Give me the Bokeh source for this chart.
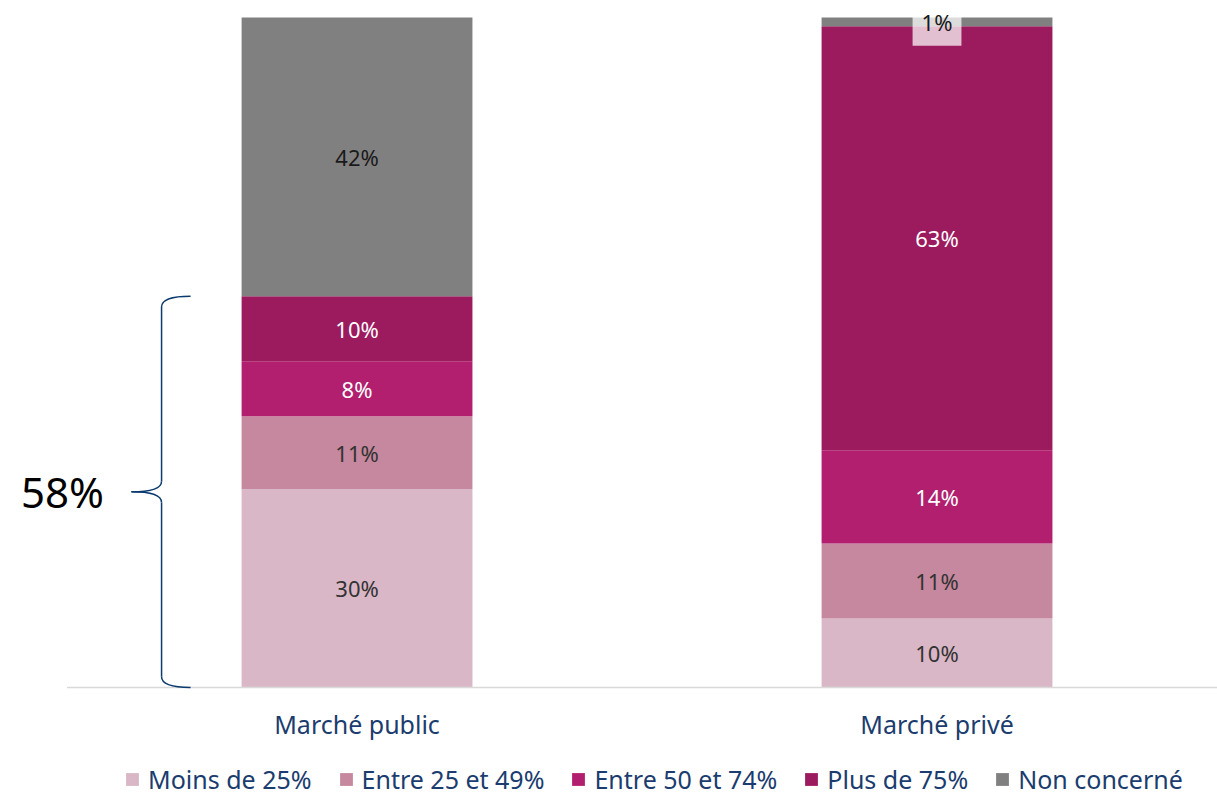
from bokeh.plotting import figure
from bokeh.models import Legend, LegendItem, ColumnDataSource, Range1d
from bokeh.core.properties import value
from bokeh.embed import file_html
from bokeh.resources import INLINE

# ---------------- data ----------------
categories = ["Marché public", "Marché privé"]
levels = ["Moins de 25%", "Entre 25 et 49%", "Entre 50 et 74%", "Plus de 75%", "Non concerné"]
public_values = [29.6, 10.9, 8.2, 9.7, 41.6]
prive_values = [10.3, 11.2, 13.9, 63.3, 1.3]
brace_label = "58%"

# ---------------- styles ----------------
colors = ["#D9B7C6", "#C5889E", "#B11F6E", "#9C1A5E", "#808080"]
label_colors = ["#333333", "#333333", "#FFFFFF", "#FFFFFF", "#1A1A1A"]
FONT = "Noto Sans"
BLUE = "#1A3C6E"

xs = [0, 1]
series = [public_values, prive_values]

p = figure(width=1217, height=796, output_backend="svg", toolbar_location=None,
           x_range=Range1d(-0.6147, 1.4836), y_range=Range1d(-16.27, 102.54),
           min_border=0)
p.min_border_left = 0
p.min_border_right = 0
p.min_border_top = 0
p.min_border_bottom = 0
p.xaxis.visible = False
p.yaxis.visible = False
p.xgrid.visible = False
p.ygrid.visible = False
p.outline_line_color = None
p.background_fill_color = "white"

src = ColumnDataSource(dict(x=xs, **{lvl: [s[i] for s in series] for i, lvl in enumerate(levels)}))
renderers = p.vbar_stack(levels, x="x", width=0.398, source=src, color=colors, line_color=None)

# baseline
p.segment(x0=[-0.5], y0=[0], x1=[1.4836], y1=[0], line_color="#D9D9D9", line_width=1.5)

# data labels
lx, ly, lt, lc = [], [], [], []
sx, sy, st = [], [], []
for xi, vals in zip(xs, series):
    cum = 0
    for i, v in enumerate(vals):
        mid = cum + v / 2
        cum += v
        txt = f"{round(v)}%"
        if v < 3:
            sx.append(xi); sy.append(mid); st.append(txt)
        else:
            lx.append(xi); ly.append(mid); lt.append(txt); lc.append(label_colors[i])
p.text(x=lx, y=ly, text=lt, text_color=lc, text_align="center", text_baseline="middle",
       text_font=value(FONT), text_font_size="22px")
p.text(x=sx, y=sy, text=st, text_color="#1A1A1A", text_align="center", text_baseline="middle",
       text_font=value(FONT), text_font_size="22px",
       background_fill_color="white", background_fill_alpha=0.72, padding=9)

# category labels
p.text(x=xs, y=[-5.4, -5.4], text=categories, text_color=BLUE, text_align="center",
       text_baseline="middle", text_font=value(FONT), text_font_size="25px")

# brace over the first four public segments
y_top = sum(public_values[:4])
y_mid = y_top / 2
r = 1.6
x_tip, x_sp, x_pt = -0.287, -0.337, -0.389
bc = "#0B3A6F"
p.quadratic(x0=[x_tip, x_sp, x_pt, x_sp], y0=[y_top, y_mid + r, y_mid, r],
            x1=[x_sp, x_pt, x_sp, x_tip], y1=[y_top - r, y_mid, y_mid - r, 0],
            cx=[x_sp, x_sp, x_sp, x_sp], cy=[y_top, y_mid, y_mid, 0],
            line_color=bc, line_width=1.5)
p.segment(x0=[x_sp, x_sp], y0=[y_top - r, y_mid - r], x1=[x_sp, x_sp], y1=[y_mid + r, r],
          line_color=bc, line_width=1.5)
p.text(x=[-0.508], y=[y_mid], text=[brace_label], text_color="black", text_align="center",
       text_baseline="middle", text_font=value(FONT), text_font_size="42px")

# legend
items = [LegendItem(label=lvl, renderers=[rr]) for lvl, rr in zip(levels, renderers)]
legend = Legend(items=items, orientation="horizontal", location=(124, 0),
                label_text_font=FONT, label_text_font_size="25px", label_text_color=BLUE,
                glyph_width=16, glyph_height=16, label_standoff=8, spacing=26,
                padding=0, margin=0, background_fill_alpha=0, border_line_color=None,
                label_height=20)
p.add_layout(legend, "center")

open("out.html", "w").write(file_html(p, INLINE))
